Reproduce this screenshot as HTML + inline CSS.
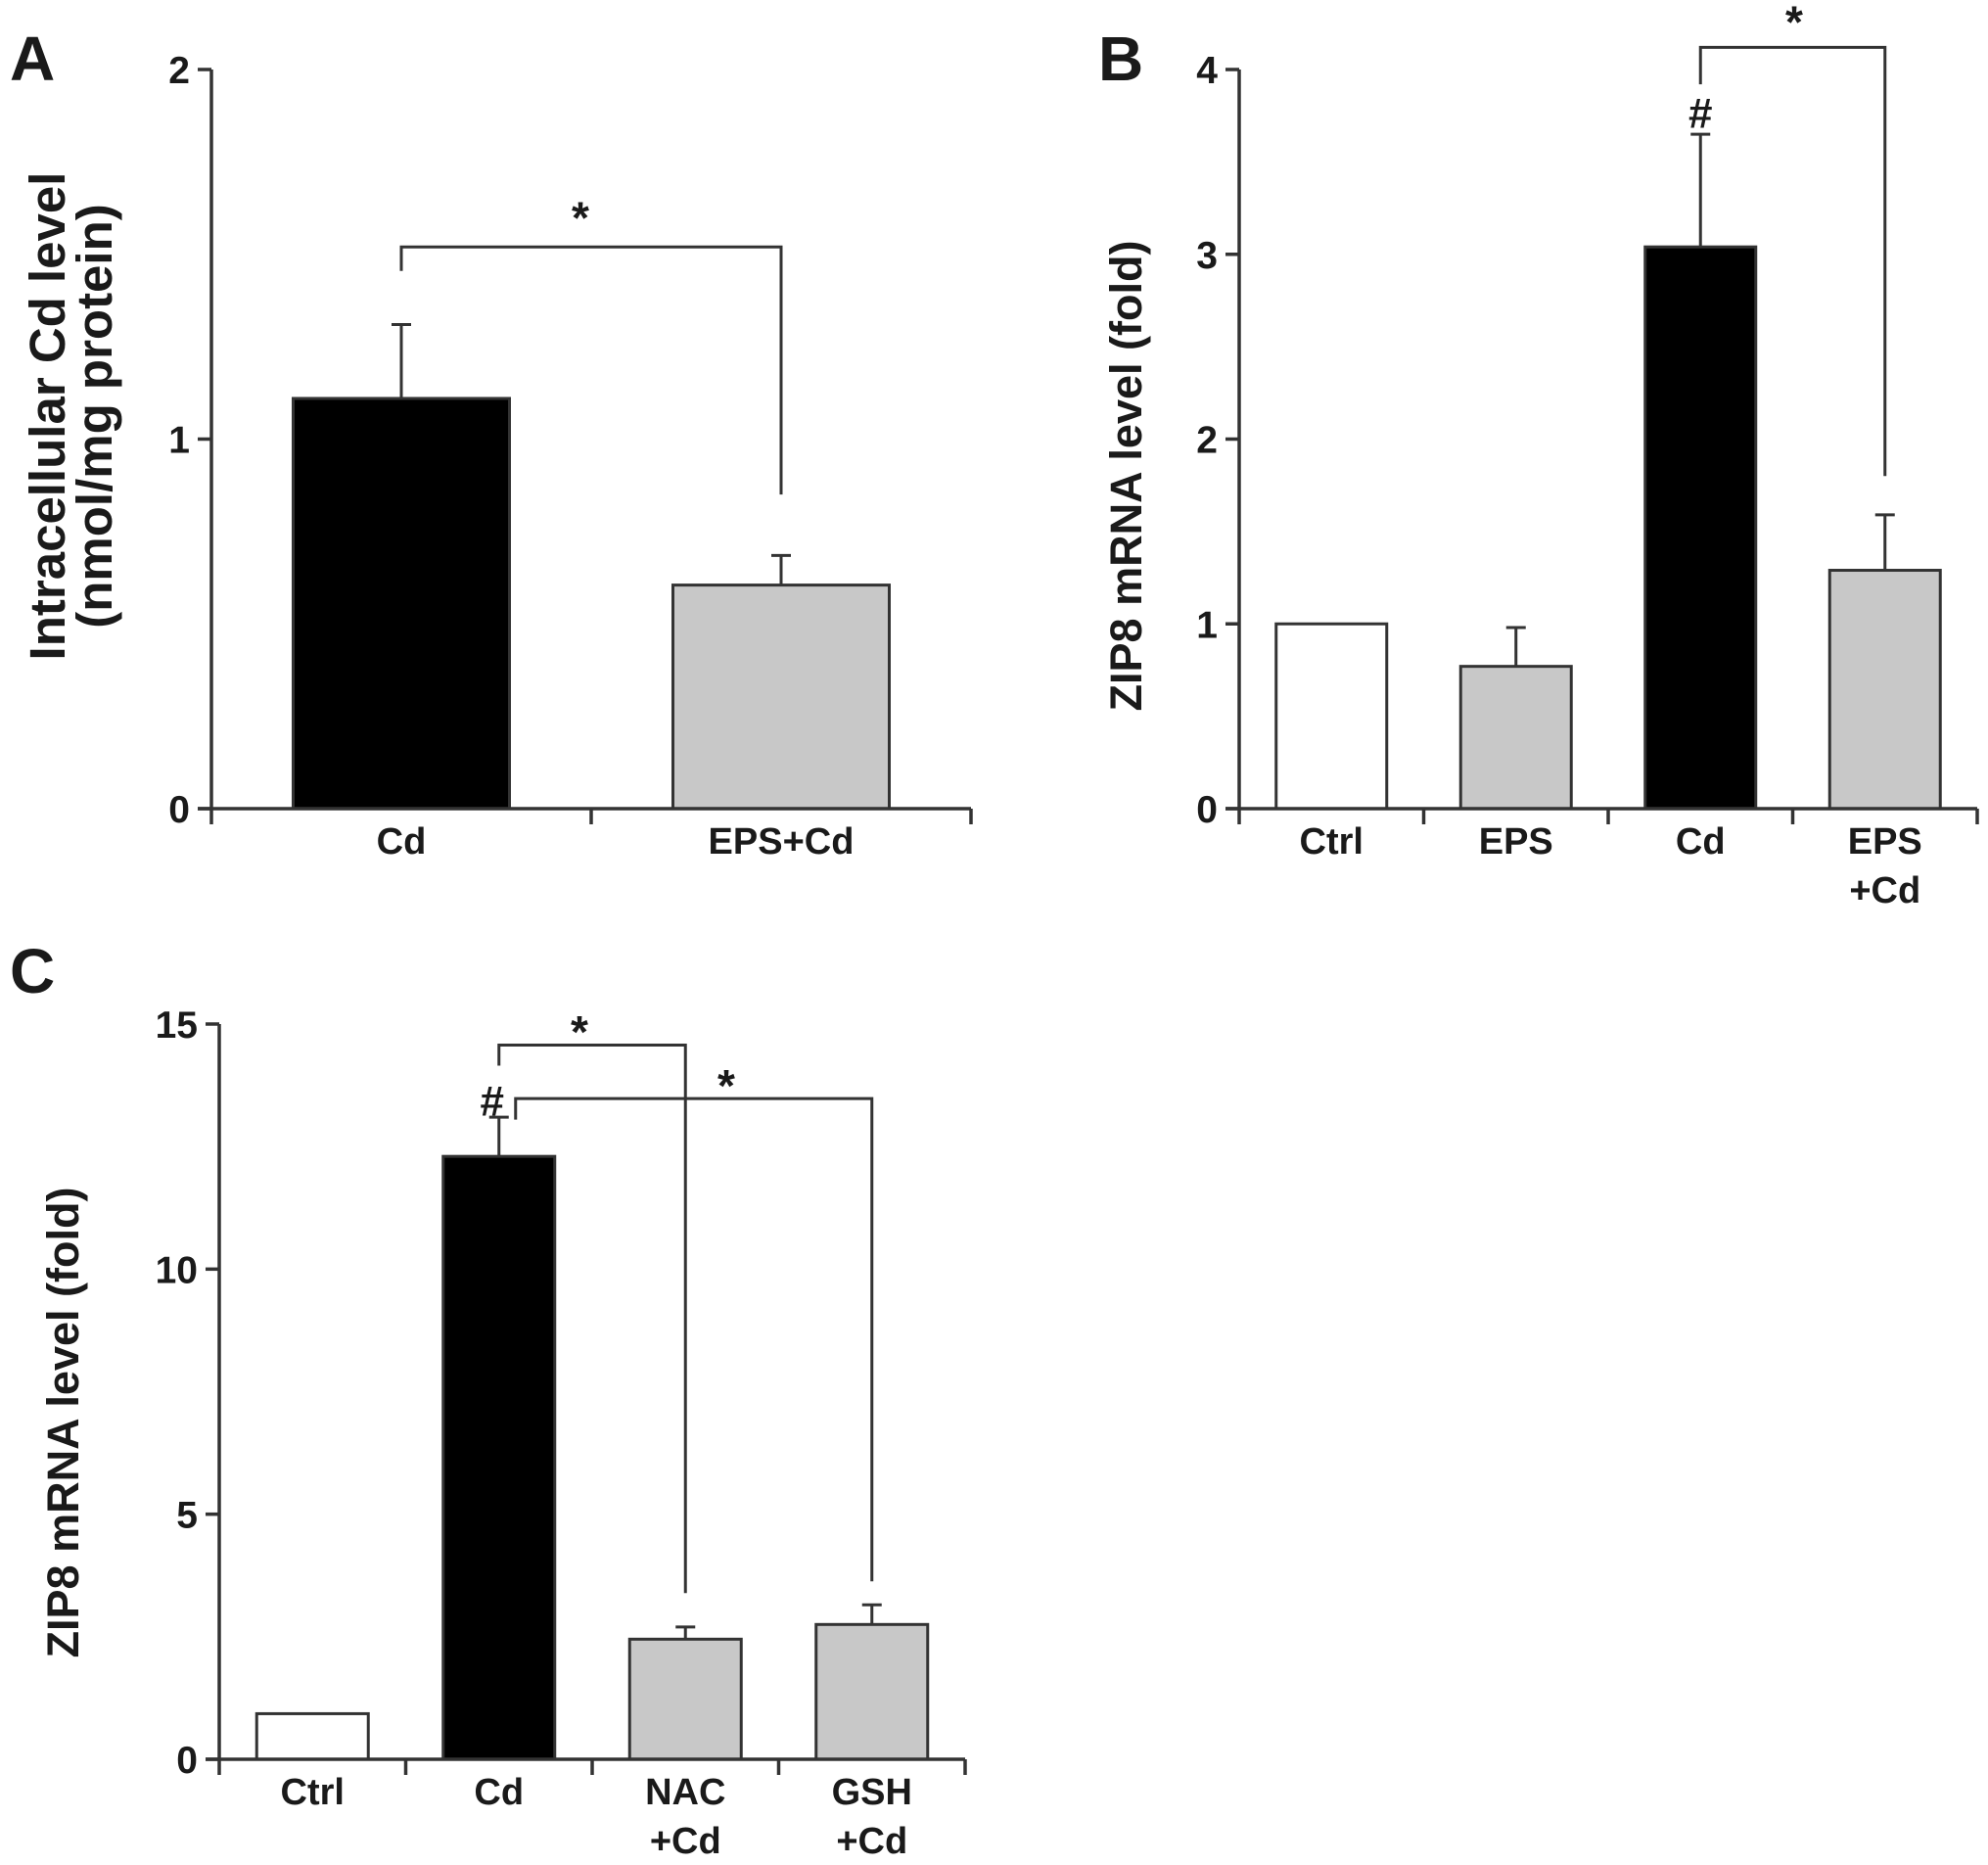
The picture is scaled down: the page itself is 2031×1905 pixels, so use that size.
<!DOCTYPE html>
<html><head><meta charset="utf-8"><style>
html,body{margin:0;padding:0;background:#fff}
svg{display:block}
text{font-family:"Liberation Sans",Arial,sans-serif;font-weight:bold;fill:#1a1a1a}
</style></head><body>
<svg id="fig" width="2031" height="1905" viewBox="0 0 2031 1905" xmlns="http://www.w3.org/2000/svg">
<text x="10" y="82" font-size="64">A</text>
<text x="1122" y="82" font-size="64">B</text>
<text x="10" y="1014" font-size="64">C</text>
<text transform="translate(66,425) rotate(-90)" text-anchor="middle" font-size="51">Intracellular Cd level</text>
<text transform="translate(114,425) rotate(-90)" text-anchor="middle" font-size="51">(nmol/mg protein)</text>
<text transform="translate(1166,486) rotate(-90)" text-anchor="middle" font-size="45">ZIP8 mRNA level (fold)</text>
<text transform="translate(80,1453) rotate(-90)" text-anchor="middle" font-size="45">ZIP8 mRNA level (fold)</text>
</svg>
<script>
// Panel A data
const aCats = ["Cd", "EPS+Cd"];
const aVals = [1.11, 0.605];
const aErrs = [0.20, 0.08];
const aTicks = [0, 1, 2];
// Panel B data
const bCats = [["Ctrl"], ["EPS"], ["Cd"], ["EPS", "+Cd"]];
const bVals = [1.0, 0.77, 3.04, 1.29];
const bErrs = [0, 0.21, 0.61, 0.30];
const bTicks = [0, 1, 2, 3, 4];
// Panel C data
const cCats = [["Ctrl"], ["Cd"], ["NAC", "+Cd"], ["GSH", "+Cd"]];
const cVals = [0.93, 12.3, 2.45, 2.75];
const cErrs = [0, 0.8, 0.25, 0.4];
const cTicks = [0, 5, 10, 15];

const NS = "http://www.w3.org/2000/svg";
const svg = document.getElementById("fig");
const STROKE = "#333";
function el(tag, attrs, parent) {
  const e = document.createElementNS(NS, tag);
  for (const k in attrs) e.setAttribute(k, attrs[k]);
  (parent || svg).appendChild(e);
  return e;
}
function panel(cfg) {
  const g = el("g", {});
  
  
  const y = v => cfg.y0 - (v - cfg.vmin) / (cfg.vmax - cfg.vmin) * (cfg.y0 - cfg.y1);
  const n = cfg.cats.length;
  const step = (cfg.xEnd - cfg.x0) / n;
  const cx = i => cfg.x0 + step * (i + 0.5);
  cfg.vals.forEach((v, i) => {
    const w = cfg.barW;
    if (cfg.errs[i] > 0) {
      const ln = el("path", {d: `M${cx(i)} ${y(v)} V${y(v + cfg.errs[i])} M${cx(i) - 10} ${y(v + cfg.errs[i])} H${cx(i) + 10}`, stroke: STROKE, "stroke-width": 3, fill: "none"}, g);
      
      
    }
    const r = el("rect", {x: cx(i) - w / 2, y: y(v), width: w, height: y(cfg.vmin) - y(v), fill: cfg.fills[i], stroke: STROKE, "stroke-width": 3}, g);
    
    
  });
  const ax = el("path", {d: `M${cfg.x0} ${cfg.y1} V${cfg.y0} M${cfg.x0 - 14} ${cfg.y0} H${cfg.xEnd}`, stroke: STROKE, "stroke-width": 3.5, fill: "none"}, g);
  
  
  cfg.ticks.forEach(t => {
    el("path", {d: `M${cfg.x0 - 14} ${y(t)} H${cfg.x0}`, stroke: STROKE, "stroke-width": 3.5}, g);
    const tl = el("text", {x: cfg.x0 - 22, y: y(t) + 14, "text-anchor": "end", "font-size": 39}, g);
    tl.textContent = t;
    
    
  });
  for (let i = 0; i <= n; i++) {
    el("path", {d: `M${cfg.x0 + step * i} ${cfg.y0} V${cfg.y0 + 16}`, stroke: STROKE, "stroke-width": 3.5}, g);
  }
  cfg.cats.forEach((c, i) => {
    const lines = Array.isArray(c) ? c : [c];
    lines.forEach((s, j) => {
      const t = el("text", {x: cx(i), y: cfg.y0 + 46 + j * 50, "text-anchor": "middle", "font-size": 38}, g);
      t.textContent = s;
      
      
    });
  });
  (cfg.brackets || []).forEach(b => {
    const xa = cx(b.a) + (b.dx || 0), xb = cx(b.b);
    const p = el("path", {d: `M${xa} ${y(b.la)} V${y(b.v)} H${xb} V${y(b.lb)}`, stroke: STROKE, "stroke-width": 3, fill: "none"}, g);
    
    
    const s = el("text", {x: b.sx, y: y(b.sv) + 24, "text-anchor": "middle", "font-size": 46}, g);
    s.textContent = "*";
    
    
  });
  (cfg.hashes || []).forEach(h => {
    const t = el("text", {x: cx(h.i) + (h.dx || 0), y: y(h.v) + 16, "text-anchor": "middle", "font-size": 44}, g);
    t.textContent = "#";
    
    
  });
}
panel({name: "panel-a-chart", cats: aCats, vals: aVals, errs: aErrs, ticks: aTicks, vmin: 0, vmax: 2,
  x0: 216, xEnd: 992, y0: 826, y1: 71, barW: 221, fills: ["#000", "#c8c8c8"],
  brackets: [{a: 0, b: 1, v: 1.52, la: 1.455, lb: 0.85, sx: 593, sv: 1.62}]});
panel({name: "panel-b-chart", cats: bCats, vals: bVals, errs: bErrs, ticks: bTicks, vmin: 0, vmax: 4,
  x0: 1266, xEnd: 2020, y0: 826, y1: 71, barW: 113, fills: ["#fff", "#c8c8c8", "#000", "#c8c8c8"],
  brackets: [{a: 2, b: 3, v: 4.12, la: 3.92, lb: 1.8, sx: 1833, sv: 4.3}],
  hashes: [{i: 2, v: 3.77}]});
panel({name: "panel-c-chart", cats: cCats, vals: cVals, errs: cErrs, ticks: cTicks, vmin: 0, vmax: 15,
  x0: 224, xEnd: 986, y0: 1797, y1: 1046, barW: 114, fills: ["#fff", "#000", "#c8c8c8", "#c8c8c8"],
  brackets: [{a: 1, b: 2, v: 14.57, la: 14.15, lb: 3.39, sx: 592, sv: 15.0},
             {a: 1, b: 3, dx: 17, v: 13.48, la: 13.05, lb: 3.63, sx: 742, sv: 13.9}],
  hashes: [{i: 1, dx: -7, v: 13.45}]});
</script>
</body></html>
